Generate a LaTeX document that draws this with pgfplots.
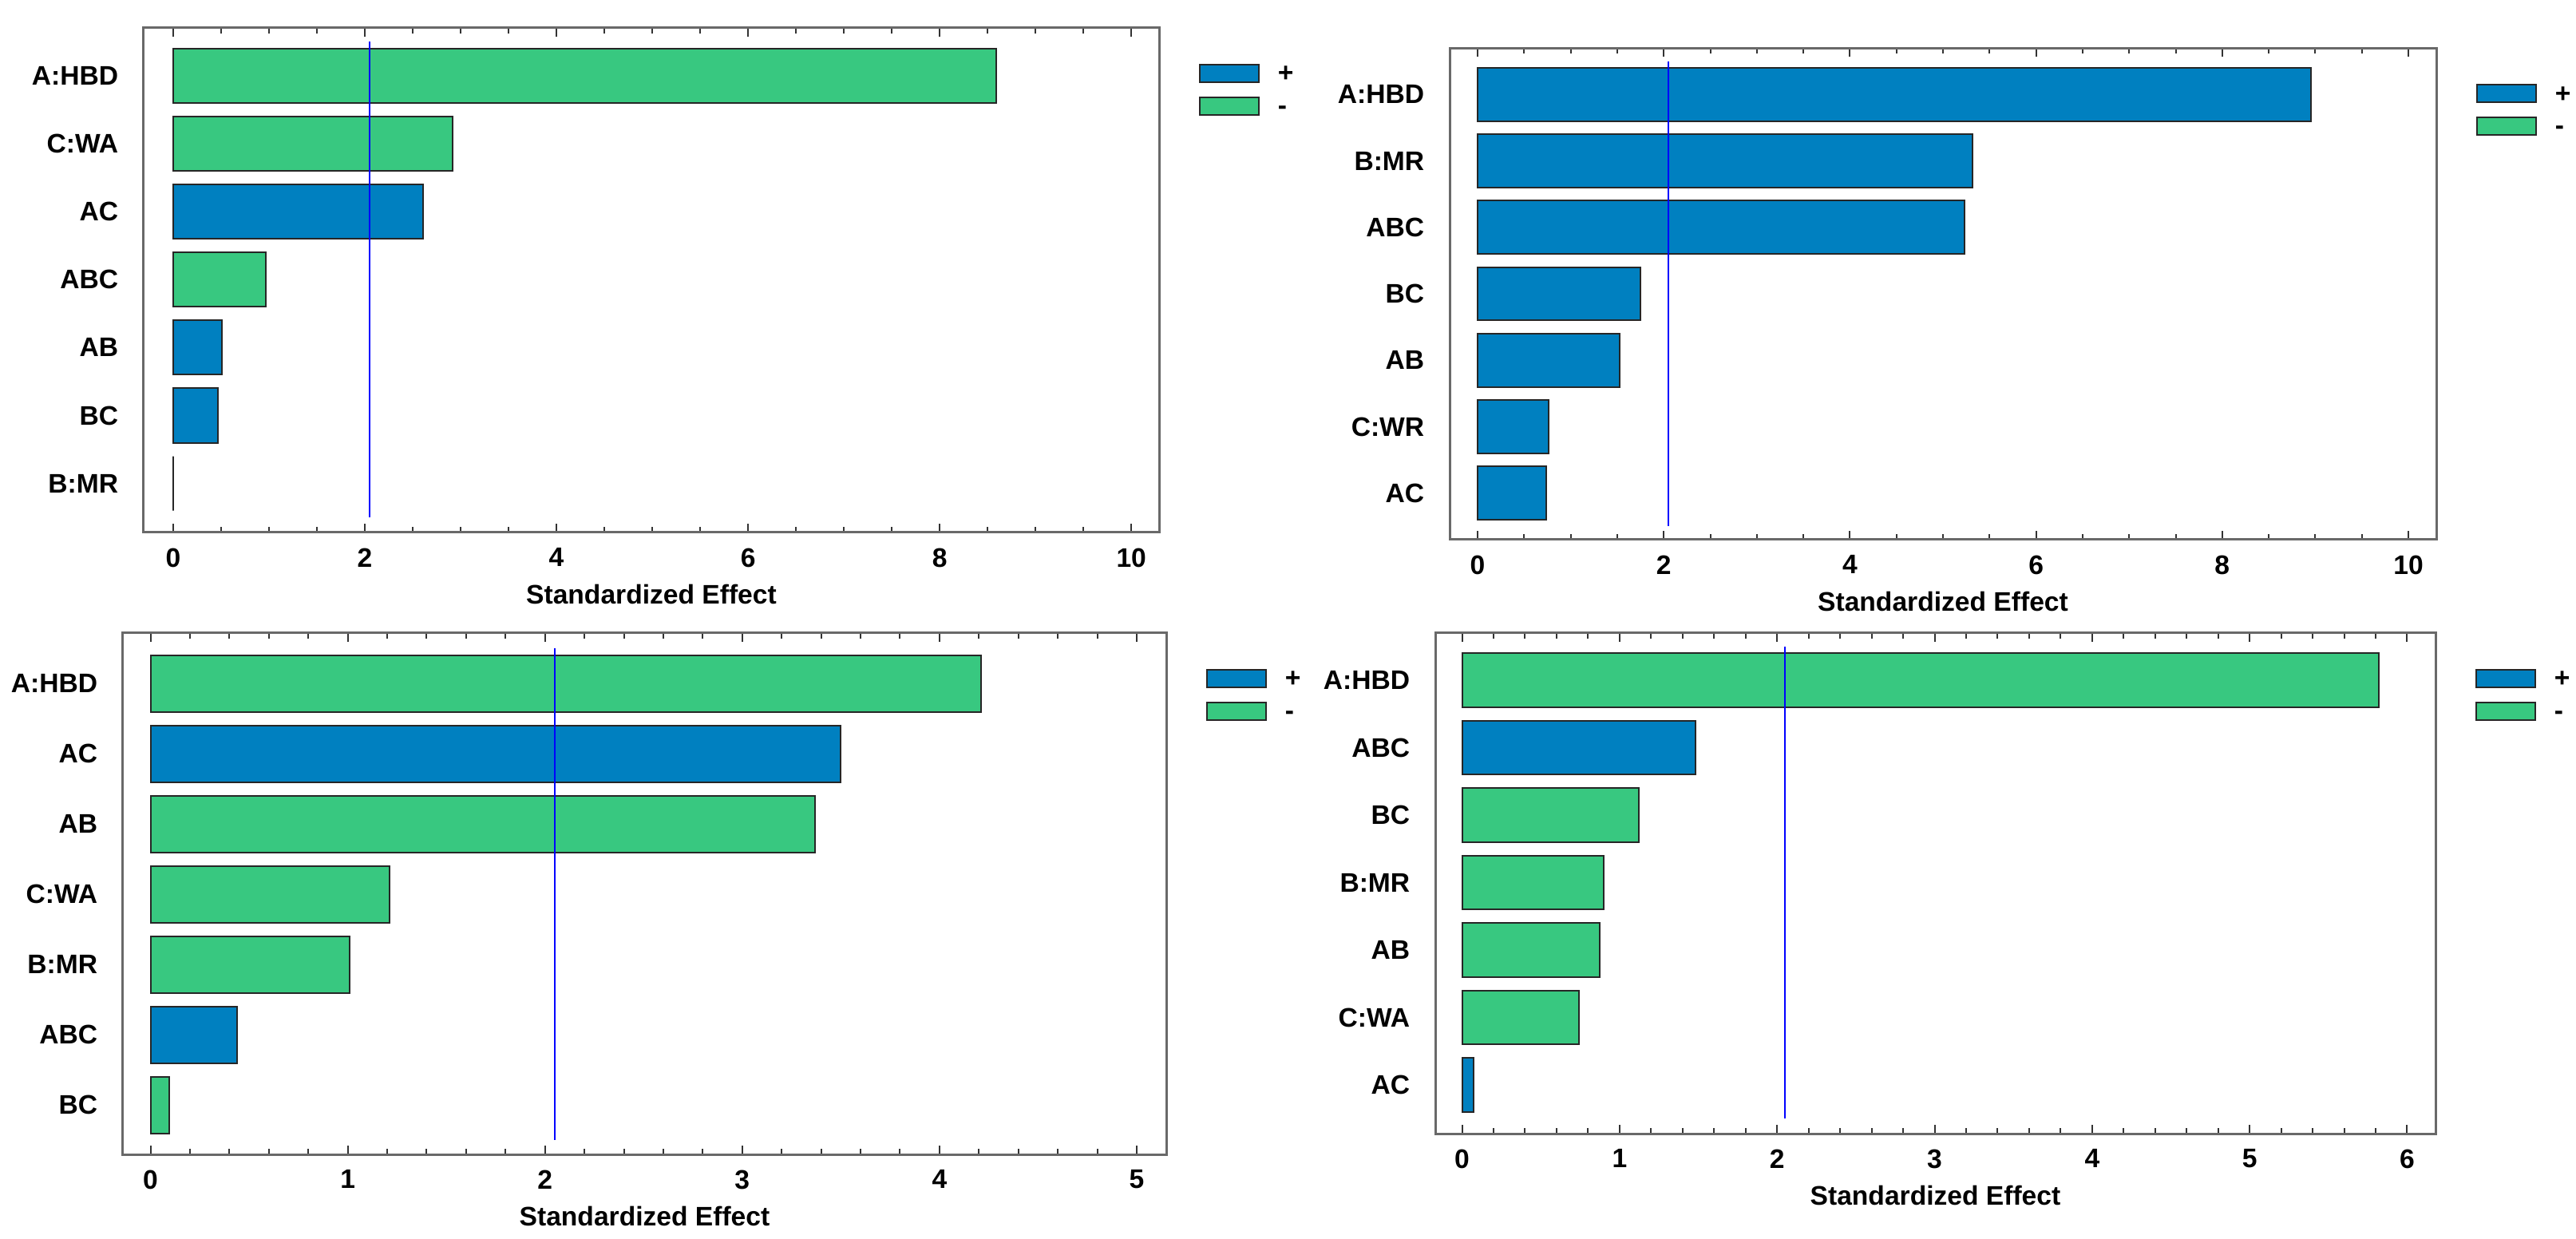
\documentclass[border=0pt]{standalone}
\usepackage{fontspec}
\setmainfont{Liberation Sans}
\usepackage{pgfplots}
\pgfplotsset{compat=1.18}

\definecolor{effpos}{RGB}{0,128,192}
\definecolor{effneg}{RGB}{56,200,128}
\definecolor{framegray}{RGB}{105,105,105}

\pgfplotsset{
  pareto/.style={
    scale only axis,
    anchor=south west,
    bar width=0.8,
    y dir=reverse,
    ytick={0,...,6},
    ytick style={draw=none},
    ytick pos=left,
    tick align=inside,
    major tick length=2.75pt,
    minor tick length=1.75pt,
    every tick/.style={black!80, line width=0.5pt},
    axis line style={framegray, line width=0.75pt},
    /pgf/number format/assume math mode=true,
    tick label style={font=\bfseries\fontsize{8.4}{10}\selectfont},
    label style={font=\bfseries\fontsize{8.4}{10}\selectfont},
    xticklabel style={inner sep=0pt, anchor=north, yshift=-4.75pt},
    yticklabel style={inner sep=0pt, anchor=east, xshift=-7.75pt},
    xlabel={Standardized Effect},
    xlabel style={at={(axis description cs:0.5,0)}, anchor=north, inner sep=0pt, yshift=-16pt},
    legend cell align=left,
    legend style={draw=none, fill=none, inner sep=0pt, at={(1,1)}, anchor=north west,
      xshift=12.25pt, yshift=-10.3pt, row sep=3.5pt, column sep=5.75pt,
      font=\bfseries\fontsize{8.4}{10}\selectfont,
      nodes={inner sep=0pt, text height=6.5pt, text depth=0pt}},
  },
  posbar/.style={xbar, bar shift=0pt, fill=effpos, draw=black!85, line width=0.5pt, forget plot},
  negbar/.style={xbar, bar shift=0pt, fill=effneg, draw=black!85, line width=0.5pt, forget plot},
  tcrit/.style={blue, line width=0.5pt, forget plot},
}

% legend: blue box "+", green box "-"
\newcommand{\signlegend}{%
  \addlegendimage{legend image code/.code={\draw[fill=effpos, draw=black!85, line width=0.5pt] (0pt,-3.2pt) rectangle (18.5pt,2.3pt);}}
  \addlegendentry{+}
  \addlegendimage{legend image code/.code={\draw[fill=effneg, draw=black!85, line width=0.5pt] (0pt,-3.2pt) rectangle (18.5pt,2.3pt);}}
  \addlegendentry{-}
}

\begin{document}
\begin{tikzpicture}
\path[use as bounding box] (0,0) rectangle (806.75pt,388pt);

% top left
\begin{axis}[pareto, at={(45pt,221.25pt)}, width=318pt, height=158pt,
  xmin=-0.308, xmax=10.29, ymin=-0.70, ymax=6.72,
  xtick={0,2,...,10}, minor x tick num=3,
  yticklabels={A:HBD, C:WA, AC, ABC, AB, BC, B:MR}]
  \signlegend
  \addplot[negbar] coordinates {(8.59,0) (2.92,1) (0.97,3)};
  \addplot[posbar] coordinates {(2.61,2) (0.51,4) (0.47,5) (0,6)};
  \addplot[tcrit] coordinates {(2.05,-0.5) (2.05,6.5)};
\end{axis}

% top right
\begin{axis}[pareto, at={(454pt,219pt)}, width=309pt, height=154pt,
  xmin=-0.30, xmax=10.30, ymin=-0.70, ymax=6.70,
  xtick={0,2,...,10}, minor x tick num=3,
  yticklabels={A:HBD, B:MR, ABC, BC, AB, C:WR, AC}]
  \signlegend
  \addplot[posbar] coordinates {(8.95,0) (5.32,1) (5.23,2) (1.75,3) (1.53,4) (0.76,5) (0.74,6)};
  \addplot[tcrit] coordinates {(2.05,-0.5) (2.05,6.5)};
\end{axis}

% bottom left
\begin{axis}[pareto, at={(38.5pt,26.5pt)}, width=326.75pt, height=163.25pt,
  xmin=-0.14, xmax=5.15, ymin=-0.72, ymax=6.70,
  xtick={0,...,5}, minor x tick num=4,
  yticklabels={A:HBD, AC, AB, C:WA, B:MR, ABC, BC}]
  \signlegend
  \addplot[negbar] coordinates {(4.21,0) (3.37,2) (1.21,3) (1.01,4) (0.093,6)};
  \addplot[posbar] coordinates {(3.50,1) (0.44,5)};
  \addplot[tcrit] coordinates {(2.05,-0.5) (2.05,6.5)};
\end{axis}

% bottom right
\begin{axis}[pareto, at={(449.5pt,33pt)}, width=313.25pt, height=156.75pt,
  xmin=-0.17, xmax=6.18, ymin=-0.70, ymax=6.72,
  xtick={0,...,6}, minor x tick num=4,
  yticklabels={A:HBD, ABC, BC, B:MR, AB, C:WA, AC}]
  \signlegend
  \addplot[negbar] coordinates {(5.82,0) (1.12,2) (0.90,3) (0.875,4) (0.74,5)};
  \addplot[posbar] coordinates {(1.48,1) (0.074,6)};
  \addplot[tcrit] coordinates {(2.05,-0.5) (2.05,6.5)};
\end{axis}
\end{tikzpicture}
\end{document}
